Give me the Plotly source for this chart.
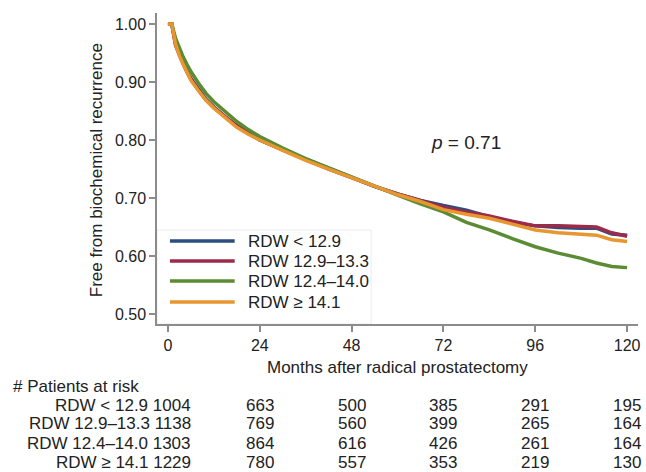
import plotly.graph_objects as go

# ---- data ----
months = [0, 1, 2, 3, 4, 5, 6, 8, 10, 12, 15, 18, 21, 24, 30, 36, 42, 48, 54,
          60, 66, 72, 78, 84, 90, 96, 102, 108, 112, 116, 120]

surv_lt129 = [1.00, 1.00, 0.965, 0.948, 0.933, 0.918, 0.906, 0.887, 0.870, 0.857,
              0.840, 0.825, 0.812, 0.800, 0.783, 0.767, 0.751, 0.736, 0.720,
              0.707, 0.696, 0.687, 0.679, 0.668, 0.658, 0.652, 0.649, 0.648,
              0.648, 0.638, 0.636]
surv_129_133 = [1.00, 1.00, 0.963, 0.946, 0.931, 0.917, 0.905, 0.886, 0.869, 0.856,
                0.840, 0.824, 0.812, 0.800, 0.783, 0.766, 0.750, 0.735, 0.720,
                0.707, 0.695, 0.684, 0.676, 0.669, 0.660, 0.652, 0.652, 0.650,
                0.650, 0.640, 0.634]
surv_124_140 = [1.00, 1.00, 0.975, 0.958, 0.943, 0.930, 0.918, 0.898, 0.880, 0.866,
                0.848, 0.832, 0.818, 0.806, 0.786, 0.768, 0.752, 0.736, 0.720,
                0.705, 0.690, 0.676, 0.658, 0.645, 0.630, 0.616, 0.605, 0.596,
                0.588, 0.582, 0.580]
surv_ge141 = [1.00, 1.00, 0.965, 0.945, 0.930, 0.915, 0.903, 0.885, 0.868, 0.855,
              0.838, 0.822, 0.810, 0.800, 0.782, 0.765, 0.750, 0.735, 0.720,
              0.706, 0.694, 0.680, 0.672, 0.665, 0.655, 0.645, 0.640, 0.638,
              0.636, 0.628, 0.625]

series_names = ["RDW < 12.9", "RDW 12.9–13.3", "RDW 12.4–14.0", "RDW ≥ 14.1"]
series_values = [surv_lt129, surv_129_133, surv_124_140, surv_ge141]
series_colors = ["#2c4d7f", "#9b2b48", "#5b8c34", "#e8962f"]

risk_times = [0, 24, 48, 72, 96, 120]
risk_lt129 = [1004, 663, 500, 385, 291, 195]
risk_129_133 = [1138, 769, 560, 399, 265, 164]
risk_124_140 = [1303, 864, 616, 426, 261, 164]
risk_ge141 = [1229, 780, 557, 353, 219, 130]
risk_rows = [risk_lt129, risk_129_133, risk_124_140, risk_ge141]

x_ticks = [0, 24, 48, 72, 96, 120]
y_ticks = [0.50, 0.60, 0.70, 0.80, 0.90, 1.00]
p_text = "<i>p</i> = 0.71"

FONT = "Liberation Sans, Arial, sans-serif"
TXT = "#222222"
AX = "#8c8c8c"

fig = go.Figure()
for name, vals, col in zip(series_names, series_values, series_colors):
    fig.add_trace(go.Scatter(x=months, y=vals, mode="lines", name=name,
                             showlegend=False,
                             line=dict(color=col, width=3.5)))

# plot area in pixels: x 157..640, y 13..324
L, R, T, B = 157, 6, 13, 148
PW, PH = 646 - L - R, 472 - T - B


def px(xp):
    return (xp - L) / PW


def py(yp):
    return (T + PH - yp) / PH


annotations = [
    dict(text="Months after radical prostatectomy", x=px(398), y=py(367),
         xref="paper", yref="paper", showarrow=False, xanchor="center",
         yanchor="middle", font=dict(size=17, color=TXT, family=FONT)),
    dict(text="Free from biochemical recurrence", x=px(96), y=py(170),
         xref="paper", yref="paper", showarrow=False, textangle=-90,
         xanchor="center", yanchor="middle",
         font=dict(size=17, color=TXT, family=FONT)),
    dict(text=p_text, x=px(467), y=py(142), xref="paper", yref="paper",
         showarrow=False, xanchor="center", yanchor="middle",
         font=dict(size=19, color=TXT, family=FONT)),
    dict(text="# Patients at risk", x=px(10), y=py(386), xref="paper",
         yref="paper", showarrow=False, xanchor="left", yanchor="middle",
         font=dict(size=17, color=TXT, family=FONT)),
]
row_y = [405, 424, 443, 462]
for name, row, ry in zip(series_names, risk_rows, row_y):
    annotations.append(dict(text=f"{name} {row[0]}", x=px(193), y=py(ry),
                            xref="paper", yref="paper", showarrow=False,
                            xanchor="right", yanchor="middle",
                            font=dict(size=17, color=TXT, family=FONT)))
    for t, n in zip(risk_times[1:], row[1:]):
        annotations.append(dict(text=str(n), x=t, y=py(ry), xref="x",
                                yref="paper", showarrow=False,
                                xanchor="center", yanchor="middle",
                                font=dict(size=17, color=TXT, family=FONT)))

# legend (drawn as key lines + labels)
shapes = [dict(type="rect", xref="paper", yref="paper", x0=px(157), x1=px(372),
               y0=py(324), y1=py(230), line=dict(color="#ececec", width=1),
               fillcolor="rgba(0,0,0,0)", layer="below")]
leg_y = [241, 261, 281, 302]
for name, col, ly in zip(series_names, series_colors, leg_y):
    shapes.append(dict(type="line", xref="paper", yref="paper", x0=px(170),
                       x1=px(235), y0=py(ly), y1=py(ly),
                       line=dict(color=col, width=3.5)))
    annotations.append(dict(text=name, x=px(246), y=py(ly), xref="paper",
                            yref="paper", showarrow=False, xanchor="left",
                            yanchor="middle",
                            font=dict(size=17, color=TXT, family=FONT)))

fig.update_layout(
    width=646, height=472,
    margin=dict(l=L, r=R, t=T, b=B, pad=0),
    paper_bgcolor="white", plot_bgcolor="white",
    font=dict(family=FONT, color=TXT),
    showlegend=False,
    xaxis=dict(range=[-2.86, 122.85], tickvals=x_ticks,
               ticktext=[str(v) for v in x_ticks], showgrid=False,
               zeroline=False, showline=True, linecolor=AX, linewidth=1.5,
               ticks="outside", ticklen=6, tickcolor=AX, tickwidth=1.5,
               tickfont=dict(size=16, color=TXT, family=FONT)),
    yaxis=dict(range=[0.4828, 1.019], tickvals=y_ticks,
               ticktext=[f"{v:.2f}" for v in y_ticks], showgrid=False,
               zeroline=False, showline=True, linecolor=AX, linewidth=1.5,
               ticks="outside", ticklen=6, tickcolor=AX, tickwidth=1.5,
               tickfont=dict(size=16, color=TXT, family=FONT)),
    annotations=annotations,
    shapes=shapes,
)

fig.write_html("out.html", config={"displayModeBar": False},
               post_script="document.body.style.margin='0px';"
                           "document.body.style.padding='0px';")
